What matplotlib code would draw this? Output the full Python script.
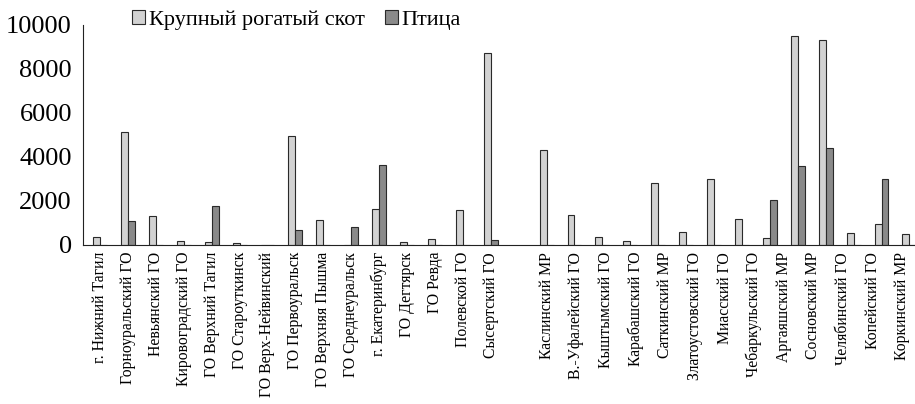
import numpy as np
import matplotlib.pyplot as plt

plt.rcParams['font.family'] = ['Liberation Serif', 'DejaVu Serif']

# Свердловская область
sverdl_labels = ['г. Нижний Тагил', 'Горноуральский ГО', 'Невьянский ГО', 'Кировоградский ГО',
                 'ГО Верхний Тагил', 'ГО Староуткинск', 'ГО Верх-Нейвинский', 'ГО Первоуральск',
                 'ГО Верхняя Пышма', 'ГО Среднеуральск', 'г. Екатеринбург', 'ГО Дегтярск',
                 'ГО Ревда', 'Полевской ГО', 'Сысертский ГО']
sverdl_cattle = [350, 5120, 1330, 200, 120, 110, 0, 4940, 1120, 0, 1640, 120, 290, 1580, 8710]
sverdl_poultry = [0, 1090, 0, 0, 1760, 0, 0, 670, 0, 820, 3650, 0, 0, 0, 210]

# Челябинская область
chel_labels = ['Каслинский МР', 'В.-Уфалейский ГО', 'Кыштымский ГО', 'Карабашский ГО',
               'Саткинский МР', 'Златоустовский ГО', 'Миасский ГО', 'Чебаркульский ГО',
               'Аргаяшский МР', 'Сосновский МР', 'Челябинский ГО', 'Копейский ГО', 'Коркинский МР']
chel_cattle = [4330, 1350, 350, 200, 2800, 610, 3000, 1180, 300, 9520, 9300, 550, 940, 480]
chel_poultry = [0, 0, 0, 0, 0, 0, 0, 0, 2050, 3580, 4410, 0, 2990, 0]

cattle = sverdl_cattle + chel_cattle
poultry = sverdl_poultry + chel_poultry

# позиции групп: пропуск одного места между областями
x = np.concatenate([np.arange(len(sverdl_cattle)),
                    np.arange(len(sverdl_cattle) + 1, len(sverdl_cattle) + 1 + len(chel_cattle))])

fig = plt.figure(figsize=(9.15, 4.04), dpi=100)
ax = fig.add_axes([0.0907, 0.3936, 0.9093, 0.5446])

w = 0.25
light = '#d2d2d2'
dark = '#8a8a8a'
edge = '#2a2a2a'
ax.bar(x - w / 2, cattle, width=w, color=light, edgecolor=edge, linewidth=0.8,
       label='Крупный рогатый скот')
ax.bar(x + w / 2, poultry, width=w, color=dark, edgecolor=edge, linewidth=0.8, label='Птица')

ax.set_xlim(-0.61, 29.2)
ax.set_ylim(0, 10000)
ax.set_yticks(np.arange(0, 10001, 2000))
ax.tick_params(axis='y', labelsize=19, length=0, pad=8)

# подписи: у Челябинской области подписи распределены равномерно по ширине групп
tick_pos = np.concatenate([np.arange(len(sverdl_labels)),
                           np.linspace(16, 28.75, len(chel_labels))])
ax.set_xticks(tick_pos)
ax.set_xticklabels(sverdl_labels + chel_labels, rotation=90, fontsize=11.3)
ax.tick_params(axis='x', length=0, pad=5)

for s in ['top', 'right']:
    ax.spines[s].set_visible(False)
ax.spines['left'].set_color('#222222')
ax.spines['bottom'].set_color('#222222')

fig.legend(loc='upper left', bbox_to_anchor=(132 / 915, 1 - 10 / 404), ncol=2, frameon=False,
           fontsize=16, handlelength=0.6, handleheight=0.6, handletextpad=0.15,
           columnspacing=0.9, borderpad=0, borderaxespad=0)

fig.savefig('out.png', dpi=100)
